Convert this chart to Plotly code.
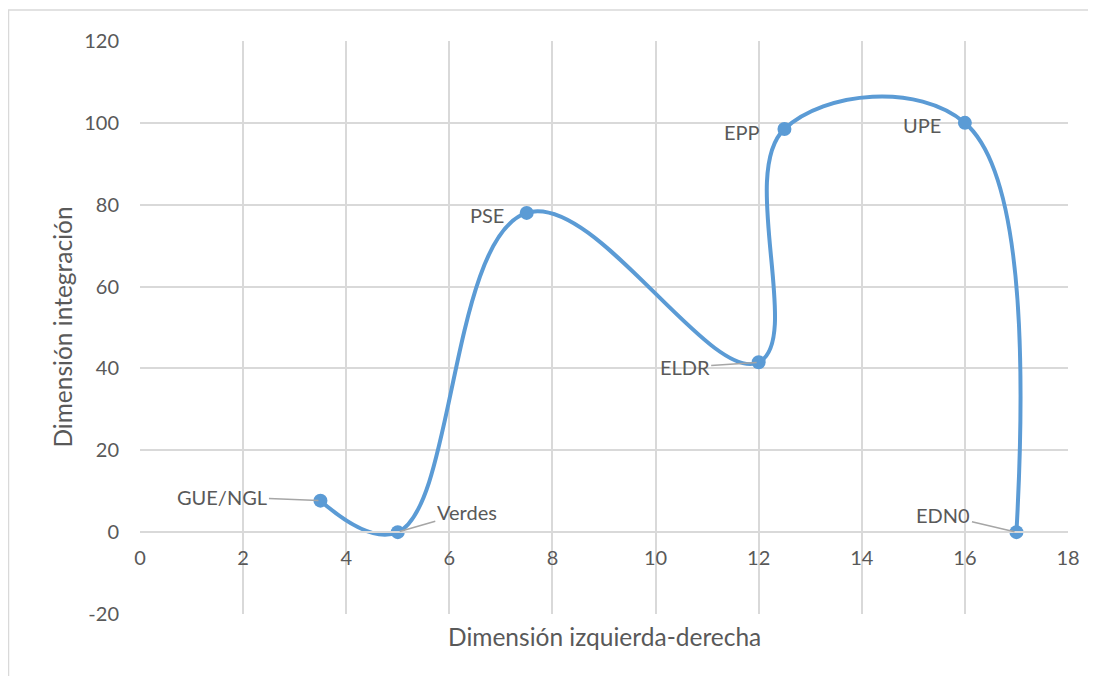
import plotly.graph_objects as go

# Data
labels = ["GUE/NGL", "Verdes", "PSE", "ELDR", "EPP", "UPE", "EDN0"]
x_vals = [3.5, 5.0, 7.5, 12.0, 12.5, 16.0, 17.0]
y_vals = [7.7, 0.0, 78.0, 41.5, 98.5, 100.0, 0.0]
x_ticks = [0, 2, 4, 6, 8, 10, 12, 14, 16, 18]
y_ticks = [-20, 0, 20, 40, 60, 80, 100, 120]
y_tick_text = ["-20", "0", "20", "40", "60", "80", "100", "120"]

# label placement (pixel offsets) and whether a leader line is drawn
label_offsets = {
    "GUE/NGL": (-98, -4, True),
    "Verdes": (69, -20, True),
    "PSE": (-40, 2, False),
    "ELDR": (-74, 5, True),
    "EPP": (-42, 3, False),
    "UPE": (-43, 2, False),
    "EDN0": (-73, -17, True),
}

FONT = "Lato"
TXT = "#595959"
GRID = "#d9d9d9"
BLUE = "#5b9bd5"

fig = go.Figure()
fig.add_trace(go.Scatter(
    x=x_vals, y=y_vals, mode="lines+markers",
    line=dict(color=BLUE, width=4, shape="spline", smoothing=1.15),
    marker=dict(color=BLUE, size=14),
    showlegend=False, hoverinfo="skip",
))

for lab, xv, yv in zip(labels, x_vals, y_vals):
    dx, dy, lead = label_offsets[lab]
    if lead:
        fig.add_annotation(x=xv, y=yv, text=lab, showarrow=True, arrowhead=0,
                           arrowwidth=1.5, arrowcolor="#a6a6a6", ax=dx, ay=dy,
                           standoff=2, font=dict(family=FONT, size=20, color=TXT))
    else:
        fig.add_annotation(x=xv, y=yv, text=lab, showarrow=False,
                           xshift=dx, yshift=-dy,
                           font=dict(family=FONT, size=20, color=TXT))

fig.add_annotation(xref="paper", yref="paper", x=0.5, y=-0.0384, text="Dimensión izquierda-derecha",
                   showarrow=False, yanchor="middle",
                   font=dict(family=FONT, size=24.5, color=TXT))
fig.add_annotation(xref="paper", yref="paper", x=-0.084, y=0.5, text="Dimensión integración",
                   showarrow=False, textangle=-90, xanchor="center", yanchor="middle",
                   font=dict(family=FONT, size=24.5, color=TXT))

# outer chart frame
fig.add_shape(type="rect", xref="paper", yref="paper", x0=-0.1417, x1=1.2, y0=-0.3, y1=1.054,
              line=dict(color=GRID, width=1.5), layer="below")

fig.update_xaxes(range=[0, 18], tickvals=x_ticks, showgrid=True, gridcolor=GRID, gridwidth=1.5,
                 zeroline=False, showline=True, linecolor=GRID, linewidth=1.5,
                 anchor="free", position=1/7, ticks="", ticklabelstandoff=8,
                 tickfont=dict(family=FONT, size=20, color=TXT))
fig.update_yaxes(range=[-20, 120], tickvals=y_ticks, ticktext=y_tick_text,
                 showgrid=True, gridcolor=GRID, gridwidth=1.5,
                 zeroline=False, showline=False, domain=[0, 1], ticks="",
                 ticklabelstandoff=20,
                 tickfont=dict(family=FONT, size=20, color=TXT))

fig.update_layout(width=1088, height=668, margin=dict(l=132, r=28, t=33, b=62),
                  paper_bgcolor="white", plot_bgcolor="white")

fig.write_html("out.html")
